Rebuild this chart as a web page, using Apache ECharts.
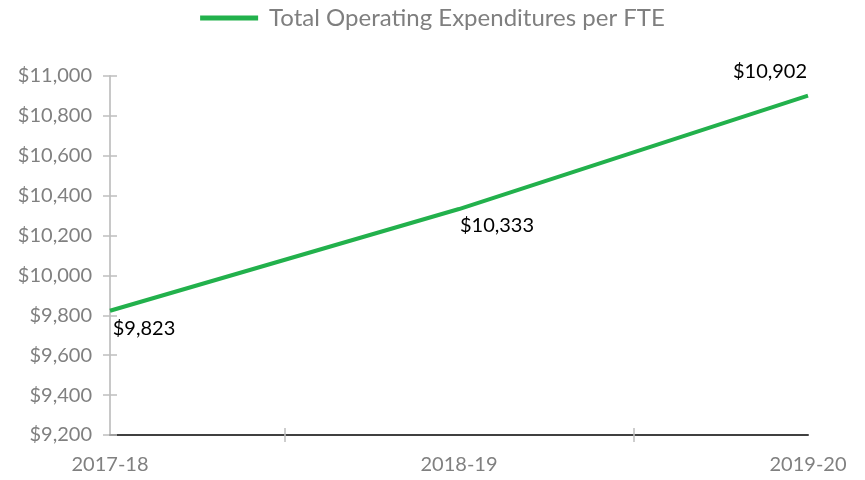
<!DOCTYPE html>
<html>
<head>
<meta charset="utf-8">
<script src="https://cdn.jsdelivr.net/npm/echarts@6/dist/echarts.min.js"></script>
<style>
  html, body { margin: 0; padding: 0; background: #fff; }
  #chart { width: 865px; height: 480px; }
</style>
</head>
<body>
<div id="chart"></div>
<script>
var years = ["2017-18", "2018-19", "2019-20"];
var spending = [9823, 10333, 10902];
var seriesName = "Total Operating Expenditures per FTE";

var chart = echarts.init(document.getElementById("chart"));
var font = "Lato";

function money(v) {
  return "$" + v.toLocaleString("en-US");
}

// label placement per point, like the original
var labelOffsets = [[34, 18], [38, 17], [-38, -24]];

var option = {
  animation: false,
  textStyle: { fontFamily: font },
  legend: {
    left: "center",
    top: 1,
    icon: "rect",
    itemWidth: 58,
    itemHeight: 5,
    textStyle: { color: "#7f7f7f", fontSize: 24, fontFamily: font, padding: [0, 0, 0, 6] },
    data: [seriesName],
  },
  grid: { left: 110, right: 57, top: 76, bottom: 45 },
  xAxis: [
    {
      type: "category",
      data: years,
      boundaryGap: false,
      axisLine: { lineStyle: { color: "#404040", width: 2 } },
      axisTick: { show: false },
      axisLabel: { color: "#808080", fontSize: 20, margin: 20 },
    },
    {
      type: "category",
      data: ["", "", "", "", ""],
      boundaryGap: false,
      position: "bottom",
      offset: -7,
      axisLine: { show: false },
      axisLabel: { show: false },
      axisTick: {
        length: 14,
        interval: function (i) { return i % 2 === 1; },
        lineStyle: { color: "#bfbfbf", width: 1.5 },
      },
    },
  ],
  yAxis: [
    {
      type: "value",
      min: 9200,
      max: 11000,
      interval: 200,
      splitLine: { show: false },
      axisLine: { show: true, lineStyle: { color: "#c8c8c8", width: 2 } },
      axisTick: { show: false },
      axisLabel: {
        color: "#808080",
        fontSize: 20,
        margin: 18,
        formatter: function (v) { return money(v); },
      },
    },
    {
      type: "value",
      min: 9200,
      max: 11000,
      interval: 200,
      position: "left",
      offset: -7,
      splitLine: { show: false },
      axisLine: { show: false },
      axisLabel: { show: false },
      axisTick: { show: true, length: 14, lineStyle: { color: "#bfbfbf", width: 1.5 } },
    },
  ],
  series: [
    {
      name: seriesName,
      type: "line",
      data: spending.map(function (v, i) {
        return {
          value: v,
          label: { offset: labelOffsets[i] },
        };
      }),
      symbol: "circle",
      symbolSize: 0,
      showSymbol: true,
      color: "#22b14c",
      lineStyle: { width: 4, color: "#22b14c" },
      label: {
        show: true,
        position: "inside",
        color: "#000",
        fontSize: 20,
        fontFamily: font,
        formatter: function (p) { return money(p.value); },
      },
    },
  ],
};

chart.setOption(option);
</script>
</body>
</html>
